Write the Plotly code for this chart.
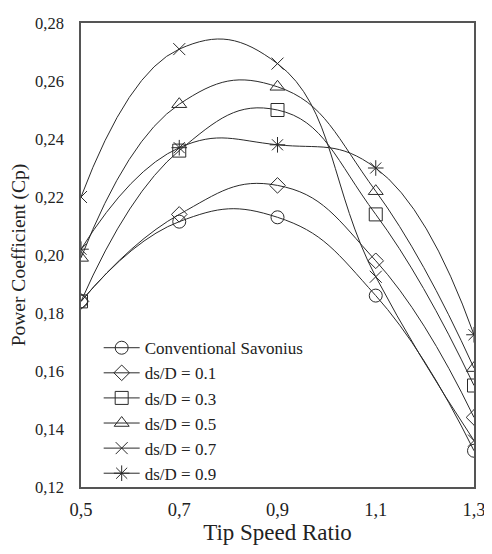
import plotly.graph_objects as go

tsr = [0.5, 0.7, 0.9, 1.1, 1.3]
names = ["Conventional Savonius", "ds/D = 0.1", "ds/D = 0.3", "ds/D = 0.5", "ds/D = 0.7", "ds/D = 0.9"]
cp_conv = [0.184, 0.2115, 0.213, 0.186, 0.1325]
cp_01 = [0.184, 0.214, 0.224, 0.198, 0.144]
cp_03 = [0.184, 0.236, 0.250, 0.214, 0.155]
cp_05 = [0.199, 0.252, 0.258, 0.222, 0.161]
cp_07 = [0.220, 0.271, 0.266, 0.1925, 0.136]
cp_09 = [0.202, 0.237, 0.238, 0.230, 0.1725]
x_ticks = [0.5, 0.7, 0.9, 1.1, 1.3]
y_ticks = [0.12, 0.14, 0.16, 0.18, 0.20, 0.22, 0.24, 0.26, 0.28]

series = [cp_conv, cp_01, cp_03, cp_05, cp_07, cp_09]
symbols = ["circle-open", "diamond-open", "square-open", "triangle-up-open", "x-thin-open", "asterisk-open"]
sizes = [13, 12, 13, 13, 12, 13]

ink = "#2a2a2a"
fig = go.Figure()
for n, s, sym, sz in zip(names, series, symbols, sizes):
    fig.add_trace(go.Scatter(
        x=tsr, y=s, name=n, mode="lines+markers",
        line=dict(color=ink, width=1, shape="spline", smoothing=1.3),
        marker=dict(symbol=sym, size=sz, color=ink, line=dict(color=ink, width=1)),
    ))

font = "Liberation Serif, Times New Roman, serif"
fig.update_layout(
    width=484, height=546,
    margin=dict(l=73, r=14, t=6, b=67),
    paper_bgcolor="white", plot_bgcolor="white",
    separators=",.",
    font=dict(family=font, size=16, color="#222"),
    showlegend=True,
    legend=dict(x=0.045, y=0.338, xanchor="left", yanchor="top",
                bgcolor="rgba(0,0,0,0)", font=dict(family=font, size=17, color="#222"),
                itemwidth=36, tracegroupgap=0),
    xaxis=dict(range=[0.5, 1.3], tickvals=x_ticks, tickformat=".1f",
               showgrid=False, zeroline=False, showline=True, linecolor="#555", linewidth=1.5,
               mirror=True, ticks="", ticklabelstandoff=5, ticklabeloverflow="allow",
               tickfont=dict(size=18.5),
               title=dict(text="Tip Speed Ratio", font=dict(size=23), standoff=0)),
    yaxis=dict(range=[0.12, 0.28], tickvals=y_ticks, tickformat=".2f",
               showgrid=False, zeroline=False, showline=True, linecolor="#555", linewidth=1.5,
               mirror=True, ticks="", ticklabelstandoff=12, ticklabeloverflow="allow",
               tickfont=dict(size=16.5),
               title=dict(text="Power Coefficient (Cp)", font=dict(size=19.5), standoff=5)),
)
fig.write_html("out.html")
